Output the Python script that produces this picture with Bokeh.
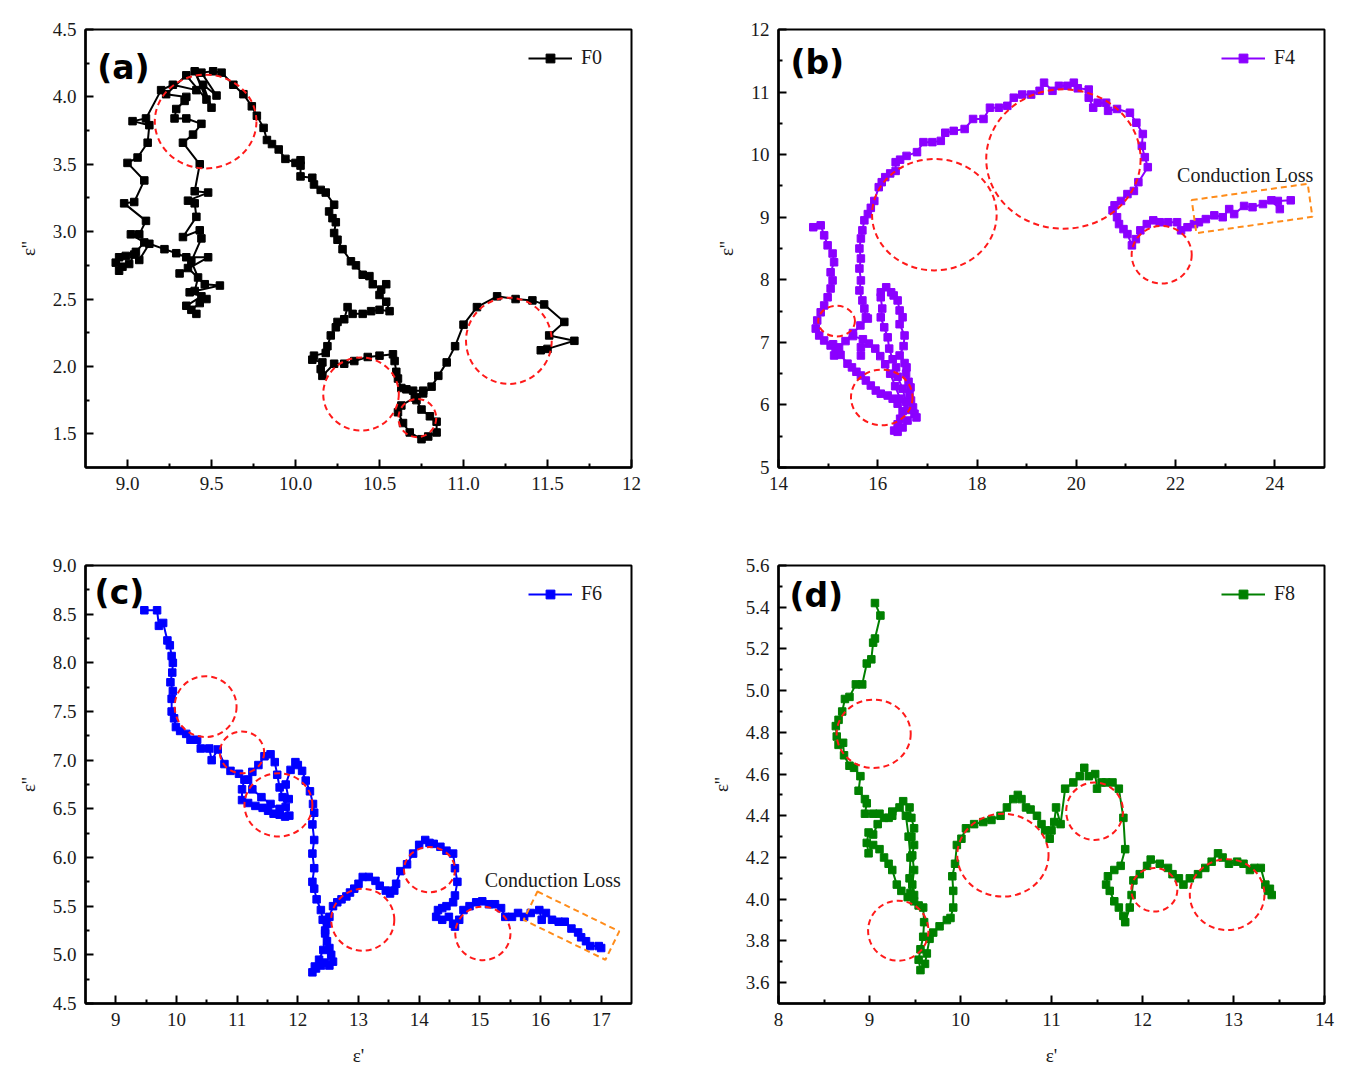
from bokeh.plotting import figure
from bokeh.layouts import column, row
from bokeh.models import FixedTicker, Range1d
from bokeh.core.properties import value
from bokeh.embed import file_html
from bokeh.resources import INLINE
import math

# ---------------- data ----------------
# (a) F0
a_x = [9.41, 9.27, 9.20, 9.11, 9.03, 9.13, 9.12, 9.06, 9.00, 9.10, 9.04, 8.98, 9.11, 9.07, 9.02, 9.10,
       9.05, 8.99, 8.95, 8.93, 8.97, 8.95, 9.01, 9.04, 9.07, 9.13,
       9.22, 9.29, 9.35, 9.48,
       9.31, 9.36, 9.46, 9.55, 9.37, 9.44, 9.35, 9.41, 9.38, 9.43, 9.47, 9.40, 9.42, 9.38, 9.44, 9.43, 9.33,
       9.41, 9.40, 9.36, 9.48, 9.40, 9.43, 9.33, 9.39, 9.44, 9.35, 9.28, 9.29, 9.34,
       9.35, 9.23, 9.35, 9.47, 9.40, 9.50, 9.45, 9.53, 9.44, 9.51, 9.56, 9.63, 9.69, 9.74, 9.77, 9.81,
       9.83, 9.86, 9.90, 9.94, 10.00, 10.03, 10.03, 10.03, 10.10, 10.11, 10.15, 10.18, 10.23, 10.20,
       10.22, 10.24, 10.23, 10.25, 10.28, 10.33, 10.36, 10.40, 10.44, 10.46, 10.51, 10.54, 10.50,
       10.54, 10.56, 10.50, 10.45, 10.40, 10.34, 10.31, 10.29, 10.25, 10.24, 10.21, 10.19, 10.18,
       10.11, 10.10, 10.16, 10.15, 10.16, 10.23, 10.29, 10.35, 10.43, 10.50, 10.58, 10.59, 10.60,
       10.61, 10.63, 10.66, 10.70, 10.76, 10.71, 10.63, 10.61, 10.64, 10.68, 10.75, 10.79, 10.84,
       10.84, 10.80, 10.75, 10.72, 10.76, 10.81, 10.85, 10.90, 10.95, 11.00, 11.08, 11.20, 11.31,
       11.41, 11.48, 11.60, 11.51, 11.66, 11.50, 11.46]
a_y = [4.05, 4.09, 4.05, 3.84, 3.82, 3.79, 3.66, 3.55, 3.51, 3.38, 3.22, 3.21, 3.08, 2.98, 2.98, 2.92,
       2.85, 2.82, 2.81, 2.77, 2.74, 2.71, 2.76, 2.83, 2.79, 2.91,
       2.87, 2.84, 2.81, 2.81,
       2.69, 2.73, 2.61, 2.60, 2.55, 2.52, 2.45, 2.39, 2.42, 2.47, 2.50, 2.56, 2.66, 2.78, 2.95, 3.01, 2.96,
       3.11, 3.21, 3.23, 3.29, 3.30, 3.50, 3.66, 3.72, 3.80, 3.84, 3.84, 3.91, 3.97,
       4.00, 4.02, 4.16, 3.98, 4.19, 3.92, 4.09, 4.01, 4.18, 4.19, 4.18, 4.09, 4.02, 3.93, 3.86, 3.77,
       3.68, 3.65, 3.61, 3.54, 3.51, 3.53, 3.49, 3.41, 3.40, 3.35, 3.31, 3.29, 3.20, 3.15,
       3.10, 3.07, 2.99, 2.94, 2.87, 2.78, 2.75, 2.68, 2.67, 2.61, 2.57, 2.61, 2.53,
       2.48, 2.41, 2.42, 2.41, 2.39, 2.39, 2.44, 2.35, 2.33, 2.29, 2.23, 2.15, 2.10,
       2.08, 2.05, 2.03, 1.98, 1.93, 2.02, 2.02, 2.04, 2.07, 2.08, 2.09, 2.04, 1.96,
       1.91, 1.84, 1.83, 1.82, 1.82, 1.77, 1.71, 1.66, 1.58, 1.51, 1.46, 1.48, 1.51,
       1.59, 1.63, 1.68, 1.75, 1.80, 1.85, 1.93, 2.03, 2.15, 2.31, 2.44, 2.52, 2.50,
       2.49, 2.46, 2.33, 2.23, 2.19, 2.13, 2.12]

# (b) F4
b_x = [14.70, 14.85, 14.92, 14.99, 15.09, 15.12, 15.05, 15.09, 15.05, 14.99, 14.92, 14.85, 14.78, 14.75,
       14.82, 14.92, 15.05, 15.15, 15.12, 15.20, 15.22, 15.10,
       15.25, 15.39, 15.48, 15.57, 15.66, 15.76, 15.86, 15.96, 16.06, 16.20, 16.30, 16.40, 16.50,
       16.45, 16.40, 16.33, 16.40, 16.50, 16.60, 16.74, 16.78, 16.71,
       16.67, 16.64, 16.66, 16.62, 16.57, 16.58, 16.54, 16.44, 16.52, 16.54, 16.44, 16.50, 16.44, 16.40,
       16.32, 16.27, 16.17, 16.06,
       16.06, 16.09, 16.06, 16.13, 16.20, 16.23, 16.30, 16.37, 16.40, 16.50, 16.57, 16.60,
       16.45, 16.35, 16.25, 16.15, 16.05, 15.95, 15.82, 15.66, 15.66, 15.70, 15.50, 15.35, 15.50, 15.65, 15.80,
       15.76, 15.73, 15.69, 15.63, 15.66, 15.63, 15.66, 15.63, 15.66, 15.69, 15.73, 15.80, 15.86, 15.93,
       16.02, 16.08, 16.15, 16.25, 16.36, 16.36, 16.45, 16.58, 16.79, 16.92, 17.10, 17.27, 17.36, 17.53,
       17.75, 17.92, 18.13, 18.26, 18.44, 18.61, 18.74, 18.91, 19.09, 19.26, 19.35, 19.52, 19.65, 19.82,
       19.95, 20.03, 20.25, 20.25, 20.34, 20.43, 20.60, 20.64, 20.82, 21.08, 21.21, 21.34, 21.32, 21.38,
       21.44, 21.25, 21.16, 21.03, 20.90, 20.77, 20.73, 20.82, 20.86, 20.95, 21.03, 21.12, 21.20, 21.29,
       21.42, 21.55, 21.68, 21.85, 22.03, 22.11, 22.24, 22.37, 22.47, 22.61, 22.78, 22.95, 23.08, 23.18,
       23.38, 23.55, 23.76, 23.93, 24.10, 24.06, 24.32]
b_y = [8.84, 8.87, 8.71, 8.55, 8.42, 8.28, 8.12, 7.99, 7.86, 7.72, 7.59, 7.48, 7.35, 7.22,
       7.11, 7.03, 6.95, 6.90, 6.79, 6.85, 6.92, 6.97,
       6.80, 6.66, 6.60, 6.53, 6.47, 6.39, 6.31, 6.23, 6.18, 6.15, 6.10, 6.02, 5.90,
       5.78, 5.69, 5.59, 5.57, 5.64, 5.75, 5.86, 5.80, 5.96,
       6.07, 6.18, 6.28, 6.37, 6.50, 6.60, 6.67, 6.79, 6.94, 7.11, 7.29, 7.40, 7.51, 7.67,
       7.75, 7.80, 7.88, 7.80,
       7.72, 7.54, 7.40, 7.24, 7.08, 6.90, 6.73, 6.60, 6.45, 6.26, 6.05, 5.92,
       6.10, 6.30, 6.50, 6.65, 6.78, 6.90, 6.98, 6.92, 6.79, 7.05, 7.10, 7.02, 7.15, 7.27, 7.38,
       7.40, 7.54, 7.67, 7.83, 7.99, 8.18, 8.34, 8.50, 8.66, 8.79, 8.95, 9.05, 9.15, 9.26,
       9.48, 9.56, 9.64, 9.70, 9.74, 9.88, 9.92, 9.98, 10.04, 10.20, 10.20, 10.22, 10.35, 10.38,
       10.41, 10.57, 10.57, 10.75, 10.75, 10.78, 10.91, 10.96, 10.96, 11.02, 11.15, 11.02, 11.10, 11.10,
       11.15, 11.06, 11.04, 10.91, 10.75, 10.83, 10.83, 10.70, 10.73, 10.67, 10.51, 10.33, 10.14, 9.96,
       9.80, 9.56, 9.42, 9.37, 9.26, 9.19, 9.11, 9.00, 8.89, 8.81, 8.73, 8.55, 8.65, 8.79,
       8.89, 8.95, 8.92, 8.92, 8.92, 8.79, 8.84, 8.89, 8.92, 8.97, 9.03, 9.00, 9.13, 9.05,
       9.18, 9.16, 9.21, 9.27, 9.13, 9.26, 9.27]

# (c) F6
c_x = [9.47, 9.68, 9.71, 9.78, 9.85, 9.89, 9.92, 9.94, 9.93, 9.90, 9.94, 9.92, 9.92, 9.96, 9.99, 10.06,
       10.16, 10.23, 10.34, 10.40, 10.54, 10.58, 10.68, 10.79, 10.89, 11.03, 11.12, 11.08, 11.08, 11.18,
       11.30, 11.42, 11.51, 11.60, 11.70, 11.79, 11.86, 11.80, 11.75, 11.70, 11.66, 11.62, 11.55, 11.45,
       11.35, 11.25, 11.18, 11.25, 11.40, 11.55, 11.70, 11.85, 11.80, 11.88, 11.96, 12.00, 12.07, 12.13,
       12.20, 12.25, 12.27, 12.24, 12.27, 12.24, 12.27, 12.24, 12.27, 12.31, 12.38, 12.41, 12.45, 12.48,
       12.52, 12.55, 12.58, 12.52, 12.45, 12.38, 12.30, 12.24, 12.28, 12.35, 12.42, 12.45, 12.48, 12.52,
       12.58, 12.65, 12.72, 12.80, 12.86, 12.93, 13.00, 13.07, 13.17, 13.28, 13.35, 13.45, 13.52, 13.59,
       13.62, 13.69, 13.80, 13.90, 14.00, 14.10, 14.17, 14.24, 14.35, 14.45, 14.56, 14.59, 14.63, 14.59,
       14.56, 14.45, 14.38, 14.31, 14.28, 14.38, 14.49, 14.56, 14.59, 14.66, 14.73, 14.83, 14.94, 15.04,
       15.15, 15.25, 15.35, 15.42, 15.53, 15.63, 15.73, 15.84, 15.98, 16.02, 16.09, 16.19, 16.30, 16.40,
       16.51, 16.62, 16.67, 16.75, 16.82, 16.96, 17.00]
c_y = [8.54, 8.54, 8.38, 8.41, 8.23, 8.18, 8.07, 8.00, 7.90, 7.80, 7.71, 7.63, 7.50, 7.43, 7.34, 7.30,
       7.27, 7.21, 7.21, 7.12, 7.12, 7.00, 7.11, 6.96, 6.89, 6.86, 6.80, 6.70, 6.59, 6.56,
       6.53, 6.51, 6.48, 6.45, 6.44, 6.42, 6.43, 6.52, 6.62, 6.72, 6.85, 6.98, 7.06, 7.04,
       6.95, 6.88, 6.80, 6.70, 6.62, 6.55, 6.50, 6.60, 6.75, 6.90, 6.98, 6.95, 6.89, 6.79,
       6.68, 6.55, 6.46, 6.34, 6.18, 6.04, 5.89, 5.75, 5.68, 5.57, 5.46, 5.36, 5.25, 5.14,
       5.07, 5.00, 4.93, 4.89, 4.92, 4.89, 4.86, 4.82, 4.88, 4.95, 5.05, 5.22, 5.32, 5.39,
       5.50, 5.54, 5.57, 5.60, 5.64, 5.68, 5.73, 5.80, 5.80, 5.76, 5.71, 5.66, 5.63, 5.66,
       5.73, 5.86, 5.93, 6.04, 6.13, 6.18, 6.15, 6.14, 6.11, 6.07, 6.04, 5.89, 5.75, 5.61,
       5.54, 5.50, 5.48, 5.46, 5.39, 5.36, 5.39, 5.32, 5.29, 5.36, 5.46, 5.50, 5.54, 5.55,
       5.52, 5.52, 5.48, 5.39, 5.39, 5.43, 5.39, 5.43, 5.46, 5.36, 5.43, 5.36, 5.34, 5.34,
       5.27, 5.23, 5.18, 5.14, 5.09, 5.09, 5.07]

# (d) F8
d_x = [9.06, 9.12, 9.06, 9.04, 9.02, 8.97, 8.92, 8.85, 8.78, 8.73, 8.70, 8.66, 8.63, 8.64, 8.66, 8.71,
       8.72, 8.78, 8.83, 8.90, 8.88, 8.95, 8.97, 8.95, 9.04, 9.11, 9.21, 9.25, 9.37, 9.44, 9.46, 9.49,
       9.46, 9.49, 9.47, 9.49, 9.47, 9.49, 9.42, 9.35, 9.30, 9.25, 9.21, 9.16, 9.11, 9.04, 8.99, 8.97,
       8.99, 9.04, 9.09, 9.16, 9.25, 9.33, 9.40, 9.43, 9.45, 9.44, 9.45, 9.49, 9.54, 9.59, 9.60, 9.59,
       9.56, 9.54, 9.56, 9.61, 9.63, 9.66, 9.70, 9.77, 9.85, 9.89, 9.92, 9.92, 9.91, 9.94, 9.96, 10.01,
       10.06, 10.15, 10.25, 10.34, 10.44, 10.51, 10.58, 10.63, 10.67, 10.72, 10.77, 10.84, 10.89, 10.93,
       10.98, 11.00, 11.03, 11.05, 11.10, 11.15, 11.24, 11.31, 11.36, 11.41, 11.48, 11.50, 11.55, 11.60,
       11.67, 11.74, 11.79, 11.81, 11.76, 11.69, 11.62, 11.60, 11.64, 11.69, 11.74, 11.79, 11.81, 11.86,
       11.88, 11.90, 11.97, 12.05, 12.09, 12.19, 12.28, 12.33, 12.40, 12.45, 12.52, 12.61, 12.69, 12.76,
       12.83, 12.88, 12.95, 13.04, 13.11, 13.18, 13.23, 13.30, 13.35, 13.38, 13.40, 13.42]
d_y = [5.42, 5.36, 5.25, 5.23, 5.15, 5.13, 5.03, 5.03, 4.97, 4.96, 4.90, 4.86, 4.83, 4.78, 4.74, 4.75,
       4.69, 4.64, 4.63, 4.59, 4.52, 4.48, 4.46, 4.41, 4.41, 4.41, 4.39, 4.42, 4.47, 4.44, 4.39, 4.34,
       4.30, 4.26, 4.21, 4.14, 4.07, 4.02, 4.01, 4.04, 4.07, 4.14, 4.17, 4.20, 4.24, 4.26, 4.22, 4.27,
       4.32, 4.31, 4.36, 4.39, 4.40, 4.44, 4.40, 4.30, 4.20, 4.10, 4.03, 3.99, 3.97, 3.96, 3.89, 3.82,
       3.76, 3.71, 3.66, 3.69, 3.74, 3.81, 3.84, 3.87, 3.90, 3.91, 3.96, 4.04, 4.11, 4.17, 4.26, 4.29,
       4.34, 4.36, 4.37, 4.38, 4.40, 4.44, 4.48, 4.50, 4.48, 4.44, 4.43, 4.40, 4.36, 4.33,
       4.29, 4.33, 4.37, 4.44, 4.36, 4.53, 4.56, 4.59, 4.63, 4.59, 4.60, 4.53, 4.56, 4.56,
       4.56, 4.53, 4.39, 4.24, 4.16, 4.14, 4.11, 4.07, 4.04, 3.99, 3.96, 3.92, 3.89, 3.96,
       4.02, 4.09, 4.12, 4.16, 4.19, 4.17, 4.15, 4.12, 4.10, 4.07, 4.10, 4.12, 4.15, 4.18,
       4.22, 4.20, 4.17, 4.18, 4.17, 4.14, 4.15, 4.15, 4.07, 4.04, 4.05, 4.02]

# red dashed circles (centre x, centre y, width and height in data units)
a_cx = [9.465, 10.39, 10.725, 11.27]
a_cy = [3.817, 1.795, 1.617, 2.19]
a_cw = [0.605, 0.45, 0.225, 0.51]
a_ch = [0.696, 0.543, 0.284, 0.64]

b_cx = [17.14, 19.74, 21.72, 15.17, 16.08]
b_cy = [9.04, 9.93, 8.40, 7.34, 6.12]
b_cw = [2.51, 3.11, 1.21, 0.74, 1.24]
b_ch = [1.78, 2.23, 0.92, 0.49, 0.89]

c_cx = [10.48, 11.08, 11.68, 13.07, 14.17, 15.05]
c_cy = [7.55, 7.08, 6.54, 5.36, 5.875, 5.22]
c_cw = [1.02, 0.73, 1.12, 1.04, 0.84, 0.91]
c_ch = [0.625, 0.43, 0.65, 0.636, 0.464, 0.55]

d_cx = [9.046, 9.316, 10.466, 11.474, 12.13, 12.93]
d_cy = [4.793, 3.849, 4.211, 4.422, 4.045, 4.022]
d_cw = [0.814, 0.663, 1.003, 0.625, 0.506, 0.82]
d_ch = [0.328, 0.288, 0.397, 0.276, 0.209, 0.34]

# orange "Conduction Loss" boxes: centre, width, height (data units), angle (deg)
b_box = [23.54, 9.14, 2.36, 0.534, 8.0]
c_box = [16.51, 5.30, 1.50, 0.324, -26.0]

# tick values / labels
a_xt = [9.0, 9.5, 10.0, 10.5, 11.0, 11.5, 12.0]
a_xl = ["9.0", "9.5", "10.0", "10.5", "11.0", "11.5", "12"]
a_yt = [1.5, 2.0, 2.5, 3.0, 3.5, 4.0, 4.5]
a_yl = ["1.5", "2.0", "2.5", "3.0", "3.5", "4.0", "4.5"]
b_xt = [14, 16, 18, 20, 22, 24]
b_xl = ["14", "16", "18", "20", "22", "24"]
b_yt = [5, 6, 7, 8, 9, 10, 11, 12]
b_yl = ["5", "6", "7", "8", "9", "10", "11", "12"]
c_xt = [9, 10, 11, 12, 13, 14, 15, 16, 17]
c_xl = ["9", "10", "11", "12", "13", "14", "15", "16", "17"]
c_yt = [4.5, 5.0, 5.5, 6.0, 6.5, 7.0, 7.5, 8.0, 8.5, 9.0]
c_yl = ["4.5", "5.0", "5.5", "6.0", "6.5", "7.0", "7.5", "8.0", "8.5", "9.0"]
d_xt = [8, 9, 10, 11, 12, 13, 14]
d_xl = ["8", "9", "10", "11", "12", "13", "14"]
d_yt = [3.6, 3.8, 4.0, 4.2, 4.4, 4.6, 4.8, 5.0, 5.2, 5.4, 5.6]
d_yl = ["3.6", "3.8", "4.0", "4.2", "4.4", "4.6", "4.8", "5.0", "5.2", "5.4", "5.6"]

SERIF = "Liberation Serif"
RED = "#FF1A1A"
ORANGE = "#FF8C1A"
FW, FH = 546, 438


def minors(ticks, n):
    out = []
    for i in range(len(ticks) - 1):
        step = (ticks[i + 1] - ticks[i]) / n
        for k in range(1, n):
            out.append(ticks[i] + k * step)
    return out


def panel(xs, ys, color, name, tag, tag_xy, xr, yr, xt, xl, yt, yl,
          cx, cy, cw, ch, borders, show_xlabel, box=None, text_xy=None):
    bl, br, bt, bb = borders
    p = figure(frame_width=FW, frame_height=FH, output_backend="svg", toolbar_location=None,
               x_range=Range1d(*xr), y_range=Range1d(*yr),
               min_border_left=bl, min_border_right=br, min_border_top=bt, min_border_bottom=bb)
    p.grid.visible = False
    p.outline_line_color = "black"
    p.outline_line_width = 2
    p.background_fill_color = "white"
    p.border_fill_color = "white"

    p.xaxis.ticker = FixedTicker(ticks=xt, minor_ticks=minors(xt, 2))
    p.yaxis.ticker = FixedTicker(ticks=yt, minor_ticks=minors(yt, 2))
    p.xaxis.major_label_overrides = {t: l for t, l in zip(xt, xl)}
    p.yaxis.major_label_overrides = {t: l for t, l in zip(yt, yl)}
    for ax in (p.xaxis, p.yaxis):
        ax.axis_line_width = 2.5
        ax.major_tick_line_width = 2
        ax.minor_tick_line_width = 2
        ax.major_tick_in = 8
        ax.major_tick_out = 0
        ax.minor_tick_in = 4
        ax.minor_tick_out = 0
        ax.major_label_text_font = SERIF
        ax.major_label_text_font_size = "19px"
        ax.major_label_text_color = "#1a1a1a"
        ax.major_label_standoff = 9
        ax.axis_label_text_font = SERIF
        ax.axis_label_text_font_style = "normal"
        ax.axis_label_text_font_size = "19px"
        ax.axis_label_text_color = "#1a1a1a"
    p.yaxis.axis_label = "ε''"
    p.yaxis.axis_label_standoff = 11
    if show_xlabel:
        p.xaxis.axis_label = "ε'"
        p.xaxis.axis_label_standoff = 16

    p.line(xs, ys, line_color=color, line_width=2, legend_label=name)
    p.scatter(xs, ys, marker="square", size=7.5, fill_color=color, line_color=color, legend_label=name)

    p.ellipse(x=cx, y=cy, width=cw, height=ch, fill_color=None, line_color=RED,
              line_width=2, line_dash="6 4")
    if box is not None:
        p.rect(x=[box[0]], y=[box[1]], width=[box[2]], height=[box[3]],
               angle=[math.radians(box[4])], fill_color=None, line_color=ORANGE,
               line_width=2, line_dash="6 4")
        p.text(x=[text_xy[0]], y=[text_xy[1]], text=["Conduction Loss"], text_font=value(SERIF),
               text_font_size="20px", text_baseline="middle", text_align="left", text_color="#1a1a1a")

    p.text(x=[tag_xy[0]], y=[tag_xy[1]], text=[tag], text_font=value("DejaVu Sans"),
           text_font_style="bold", text_font_size="33px", text_baseline="middle",
           text_align="left", text_color="black")

    lg = p.legend[0]
    lg.location = (443, FH - 18 - 22)
    lg.margin = 0
    lg.padding = 0
    lg.border_line_color = None
    lg.background_fill_alpha = 0
    lg.glyph_width = 44
    lg.glyph_height = 22
    lg.label_height = 22
    lg.label_standoff = 9
    lg.label_text_font = SERIF
    lg.label_text_font_size = "20px"
    lg.label_text_color = "#1a1a1a"
    return p


pa = panel(a_x, a_y, "#000000", "F0", "(a)", (8.82, 4.22), (8.75, 12.0), (1.25, 4.5),
           a_xt, a_xl, a_yt, a_yl, a_cx, a_cy, a_cw, a_ch, (85, 40, 27, 50), False)
pb = panel(b_x, b_y, "#8B00FF", "F4", "(b)", (14.24, 11.47), (14.0, 25.0), (5.0, 12.0),
           b_xt, b_xl, b_yt, b_yl, b_cx, b_cy, b_cw, b_ch, (107, 20, 29, 48), False,
           box=b_box, text_xy=(22.03, 9.67))
pc = panel(c_x, c_y, "#0000FF", "F6", "(c)", (8.65, 8.72), (8.5, 17.5), (4.5, 9.0),
           c_xt, c_xl, c_yt, c_yl, c_cx, c_cy, c_cw, c_ch, (85, 40, 50, 75), True,
           box=c_box, text_xy=(15.08, 5.77))
pd = panel(d_x, d_y, "#008000", "F8", "(d)", (8.12, 5.456), (8.0, 14.0), (3.5, 5.6),
           d_xt, d_xl, d_yt, d_yl, d_cx, d_cy, d_cw, d_ch, (107, 20, 50, 75), True)

layout = column(row(pa, pb, spacing=0), row(pc, pd, spacing=0), spacing=0)
open("out.html", "w").write(file_html(layout, INLINE))
